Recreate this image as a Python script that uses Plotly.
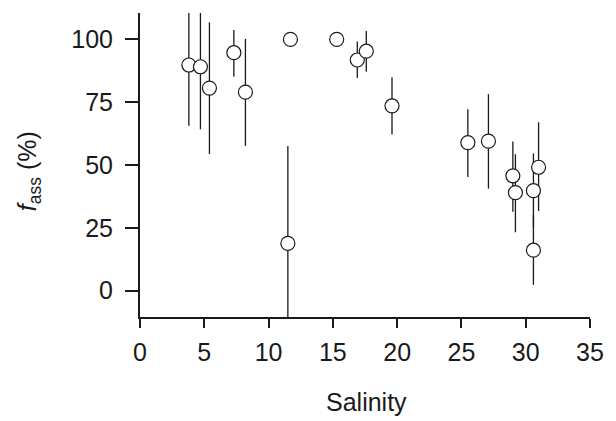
import plotly.graph_objects as go

salinity = [3.8, 4.7, 5.4, 7.3, 8.2, 11.7, 11.5, 15.3, 16.9, 17.6, 19.6, 25.5, 27.1, 29.0, 29.2, 30.6, 30.6, 31.0]
f_ass    = [89.8, 89.1, 80.6, 94.7, 79.0, 100.0, 18.8, 100.0, 91.8, 95.3, 73.5, 58.9, 59.5, 45.7, 39.0, 39.8, 16.1, 49.1]
err_hi   = [25.0, 25.0, 26.2, 9.0, 21.2, 0.0, 38.8, 0.0, 7.4, 8.0, 11.4, 13.3, 18.7, 13.7, 15.3, 14.8, 14.0, 17.9]
err_lo   = [24.2, 24.9, 26.2, 9.6, 21.4, 0.0, 40.0, 0.0, 7.2, 8.2, 11.4, 13.7, 18.9, 14.3, 15.8, 14.8, 13.8, 17.4]

x_ticks = [0, 5, 10, 15, 20, 25, 30, 35]
y_ticks = [0, 25, 50, 75, 100]

FONT = "Liberation Sans, Arial, sans-serif"
INK = "#1a1a1a"
FS = 25

fig = go.Figure()
fig.add_trace(go.Scatter(
    x=salinity, y=f_ass, mode="markers",
    marker=dict(symbol="circle", size=14, color="white", line=dict(color=INK, width=1.2)),
    error_y=dict(type="data", symmetric=False, array=err_hi, arrayminus=err_lo,
                 color=INK, thickness=1.3, width=0),
    showlegend=False,
))

fig.update_layout(
    width=616, height=421,
    margin=dict(l=140, r=21, t=13, b=104),
    paper_bgcolor="white", plot_bgcolor="white",
    font=dict(family=FONT, size=FS, color=INK),
    xaxis=dict(range=[0, 35], tickvals=x_ticks, showgrid=False, zeroline=False,
               showline=True, linecolor=INK, linewidth=2, ticks="outside",
               ticklen=9, tickwidth=2, tickcolor=INK, ticklabelstandoff=3,
               tickfont=dict(size=FS, color=INK)),
    yaxis=dict(range=[-10.5, 110.5], tickvals=y_ticks, showgrid=False, zeroline=False,
               showline=True, linecolor=INK, linewidth=2, ticks="outside",
               ticklen=13, tickwidth=2, tickcolor=INK, ticklabelstandoff=7,
               tickfont=dict(size=FS, color=INK)),
    annotations=[
        dict(text="Salinity", xref="paper", yref="paper", x=0.5026, y=(317 - 402) / 304,
             xanchor="center", yanchor="middle", showarrow=False,
             font=dict(size=FS, color=INK, family=FONT)),
        dict(text="<i>f</i><sub>ass</sub> (%)", xref="paper", yref="paper",
             x=(28 - 140) / 455, y=(317 - 171) / 304, textangle=-90,
             xanchor="center", yanchor="middle", showarrow=False,
             font=dict(size=FS, color=INK, family=FONT)),
    ],
)

fig.write_html("out.html")
